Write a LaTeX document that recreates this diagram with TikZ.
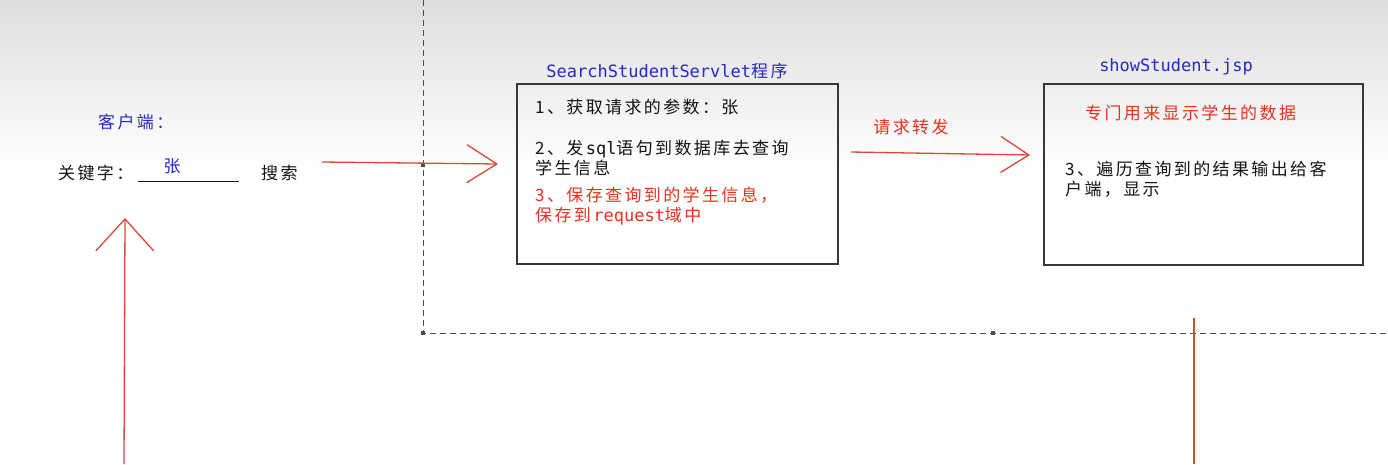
\documentclass[tikz,border=0pt]{standalone}
\usepackage{fontspec}
\setmainfont{Noto Sans CJK SC}[LetterSpace=14]
\setmonofont{DejaVu Sans Mono}
\usetikzlibrary{arrows.meta}
\definecolor{ink}{RGB}{20,20,20}
\definecolor{tblue}{RGB}{40,40,200}
\definecolor{tred}{RGB}{232,50,30}
\definecolor{lred}{RGB}{218,72,56}
\definecolor{dgray}{RGB}{70,76,92}
\definecolor{bgtop}{RGB}{222,222,222}
\begin{document}
\begin{tikzpicture}[x=1pt,y=-1pt,
  txt/.style={font=\fontsize{17}{20}\selectfont, inner sep=0pt, text=ink, anchor=west, align=left},
  bluetxt/.style={txt, text=tblue},
  redtxt/.style={txt, text=tred},
  boxnode/.style={draw=ink!85, line width=1.2pt, inner sep=0pt, fill=none},
  divider/.style={draw=dgray, line width=1pt, dash pattern=on 6pt off 4pt},
  joint/.style={fill=dgray, inner sep=0pt, minimum size=4pt},
  redline/.style={draw=lred, line width=1.3pt},
]
\useasboundingbox (0,0) rectangle (1388,464);
% background
\fill[top color=bgtop, bottom color=white] (0,0) rectangle (1388,170);
\fill[white] (0,170) rectangle (1388,464);

% dashed dividers
\coordinate (dtop) at (423,0);
\coordinate (dcorner) at (423,333);
\coordinate (dright) at (1388,333);
\draw[divider] (dtop) -- (dcorner) -- (dright);
\node[joint] (j1) at (423,165) {};
\node[joint] (j2) at (423,333) {};
\node[joint] (j3) at (993,333) {};

% client side
\node[bluetxt] (client) at (98,122) {客户端：};
\node[txt] (kw) at (58,173) {关键字：};
\coordinate (ulL) at (138,181);
\coordinate (ulR) at (239,181);
\draw[ink, line width=1pt] (ulL) -- (ulR);
\node[bluetxt, anchor=center] (zhang) at (172,166) {张};
\node[txt] (search) at (261,173) {搜索};

% servlet box
\node[bluetxt, anchor=center] (title1) at (667,71) {\texttt{SearchStudentServlet}程序};
\node[boxnode, minimum width=321pt, minimum height=180pt] (box1) at (677.5,174) {};
\node[txt] (s1) at (535,107) {1、获取请求的参数：张};
\node[txt] (s2) at (535,158) {2、发\texttt{sql}语句到数据库去查询\\学生信息};
\node[redtxt] (s3) at (535,206.5) {3、保存查询到的学生信息，\\保存到\texttt{request}域中};

% jsp box
\node[bluetxt, anchor=center] (title2) at (1176,67) {\texttt{showStudent.jsp}};
\node[boxnode, minimum width=319pt, minimum height=181pt] (box2) at (1203.5,174.5) {};
\node[redtxt] (j1t) at (1085,113) {专门用来显示学生的数据};
\node[txt] (j2t) at (1065,179.5) {3、遍历查询到的结果输出给客\\户端，显示};

% forward label
\node[redtxt, anchor=center] (fwd) at (911,127) {请求转发};

% arrows
\coordinate (a1s) at (322,162);
\coordinate (a1e) at (498,164);
\draw[redline, -{Straight Barb[length=30pt,width=38pt]}] (a1s) -- (a1e);
\coordinate (a2s) at (851,152);
\coordinate (a2e) at (1030,155);
\draw[redline, -{Straight Barb[length=28pt,width=36pt]}] (a2s) -- (a2e);
\coordinate (a3s) at (124,464);
\coordinate (a3e) at (125,218);
\draw[redline, -{Straight Barb[length=32pt,width=58pt]}] (a3s) -- (a3e);
\coordinate (r4s) at (1194,318);
\coordinate (r4e) at (1194,464);
\draw[redline] (r4s) -- (r4e);
\end{tikzpicture}
\end{document}
